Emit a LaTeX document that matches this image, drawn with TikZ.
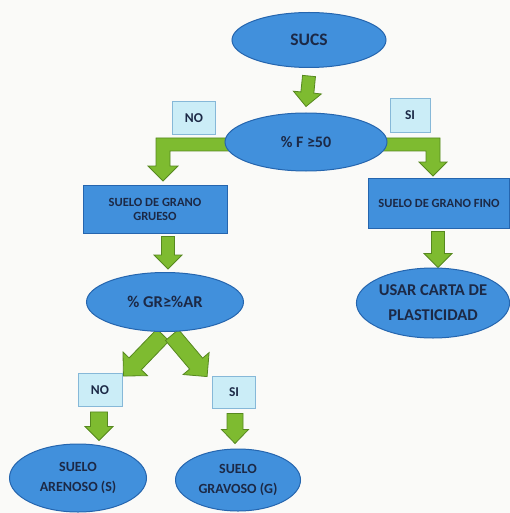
\documentclass[tikz,border=0pt]{standalone}
\usepackage{fontspec}
\setmainfont{Carlito}
\usetikzlibrary{shapes.geometric,calc,backgrounds}
\definecolor{bgc}{HTML}{FAFAF8}
\definecolor{blu}{HTML}{4190DC}
\definecolor{bluedge}{HTML}{2565AE}
\definecolor{lblc}{HTML}{CBEDF7}
\definecolor{lbledge}{HTML}{86B8D8}
\definecolor{grn}{HTML}{7EBB30}
\definecolor{grnedge}{HTML}{56881F}
\definecolor{txt}{HTML}{1C2946}
\tikzset{
  ell/.style={ellipse, draw=bluedge, fill=blu, line width=1pt, inner sep=0pt, text=txt, align=center},
  bluebox/.style={rectangle, draw=bluedge, fill=blu, line width=1pt, inner sep=0pt, text=txt, align=center},
  lbl/.style={rectangle, draw=lbledge, fill=lblc, line width=0.8pt, inner sep=0pt, text=txt, align=center,
     minimum width=43pt, minimum height=33pt, font=\fontsize{13.5}{15}\selectfont\bfseries},
  garrow/.style={draw=grnedge, fill=grn, line width=0.8pt, line join=miter},
}
\newcommand\blockarrow[5]{%
  \draw[garrow] let \p1=(#1), \p2=(#2), \n1={atan2(\y2-\y1,\x2-\x1)}, \n2={veclen(\x2-\x1,\y2-\y1)},
      \n3={\n2-#5pt} in
  ([shift={(\p1)},rotate=\n1]0pt,#3pt) --
  ([shift={(\p1)},rotate=\n1]\n3,#3pt) --
  ([shift={(\p1)},rotate=\n1]\n3,#4pt) --
  ([shift={(\p1)},rotate=\n1]\n2,0pt) --
  ([shift={(\p1)},rotate=\n1]\n3,-#4pt) --
  ([shift={(\p1)},rotate=\n1]\n3,-#3pt) --
  ([shift={(\p1)},rotate=\n1]0pt,-#3pt) -- cycle;}
\begin{document}
\begin{tikzpicture}[x=1pt,y=-1pt]
\useasboundingbox (0,0) rectangle (510,513);
% nodes
\node[ell, minimum width=154pt, minimum height=55pt, font=\fontsize{17.5}{20}\selectfont\bfseries] (sucs) at (309,40) {SUCS};
\node[ell, minimum width=162pt, minimum height=58pt, font=\fontsize{16}{20}\selectfont\bfseries] (pf) at (306,142) {\% F ≥50};
\node[lbl] (no1) at (194,118) {NO};
\node[lbl, minimum width=40pt, minimum height=34pt] (si1) at (410,115) {SI};
\node[bluebox, minimum width=144pt, minimum height=48pt, font=\fontsize{12.5}{14}\selectfont\bfseries] (gg) at (155,209) {SUELO DE GRANO\\GRUESO};
\node[bluebox, minimum width=141pt, minimum height=50pt, font=\fontsize{12.5}{14}\selectfont\bfseries] (gf) at (439,203) {SUELO DE GRANO FINO};
\node[ell, minimum width=152pt, minimum height=70pt, font=\fontsize{16.5}{25}\selectfont\bfseries] (usar) at (433,303) {USAR CARTA DE\\PLASTICIDAD};
\node[ell, minimum width=157pt, minimum height=59pt, font=\fontsize{16.5}{20}\selectfont\bfseries] (gr) at (165,302) {\% GR≥\%AR};
\node[lbl, minimum width=44pt] (no2) at (100,390) {NO};
\node[lbl, minimum height=32pt] (si2) at (234,392) {SI};
\node[ell, minimum width=137pt, minimum height=68pt, font=\fontsize{14}{20}\selectfont\bfseries] (are) at (78,478) {SUELO\\ARENOSO (S)};
\node[ell, minimum width=125pt, minimum height=62pt, font=\fontsize{14}{20}\selectfont\bfseries] (grav) at (238,480) {SUELO\\GRAVOSO (G)};
% arrows and background
\begin{pgfonlayer}{background}
\fill[bgc] (0,0) rectangle (510,513);
\blockarrow{$(sucs.south)+(0,8)$}{$(pf.north)+(0,-6)$}{6.5}{14}{14}
\blockarrow{$(gg.south)+(13,3)$}{$(gr.north)+(3,-3)$}{6.5}{14}{14}
\blockarrow{$(gf.south)+(-1,3)$}{$(usar.north)+(5,0)$}{6.5}{14}{14}
\blockarrow{$(gr.south)+(-2,3)$}{$(no2.north east)+(1,3)$}{8.5}{17}{17}
\blockarrow{$(gr.south)+(7,3)$}{$(si2.north west)+(-5,1)$}{8.5}{17}{17}
\blockarrow{$(no2.south)+(-1,5)$}{$(are.north)+(21,-3)$}{8.5}{14}{14}
\blockarrow{$(si2.south)+(1,5)$}{$(grav.north)+(-3,-5)$}{8}{13.5}{14}
% elbows
\draw[garrow] ($(pf.west)+(8,-4)$) -- (156,138) -- (156,166) -- (148,166) -- (163,181) -- (178,166) -- (170,166) -- (170,151) -- ($(pf.west)+(8,9)$) -- cycle;
\draw[garrow] ($(pf.east)+(-8,-4)$) -- (440,138) -- (440,162) -- (447,162) -- (433,176) -- (419,162) -- (426,162) -- (426,151) -- ($(pf.east)+(-8,9)$) -- cycle;
\end{pgfonlayer}
\end{tikzpicture}
\end{document}
